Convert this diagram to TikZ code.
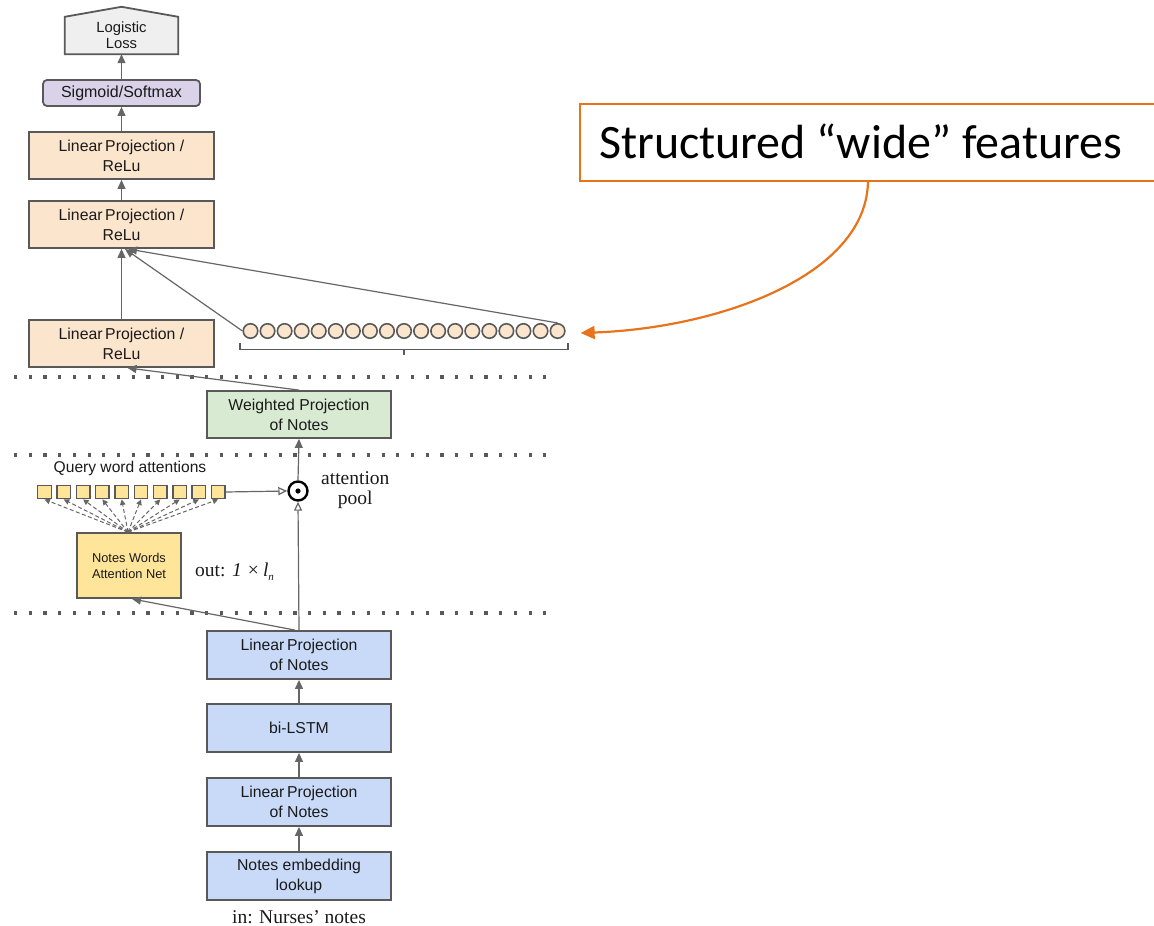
\documentclass[tikz,border=0pt]{standalone}
\usepackage{fontspec}
\usetikzlibrary{arrows.meta,calc,backgrounds}
\newfontfamily\arial{Liberation Sans}
\newfontfamily\tnr{Liberation Serif}
\newfontfamily\calibri{Carlito}

\definecolor{edge}{HTML}{595959}
\definecolor{wire}{HTML}{666666}
\definecolor{ink}{HTML}{1A1A1A}
\definecolor{lossfill}{HTML}{EFEFEF}
\definecolor{sigfill}{HTML}{D9D2E9}
\definecolor{peach}{HTML}{FCE5CD}
\definecolor{mint}{HTML}{D9EAD3}
\definecolor{butter}{HTML}{FFE599}
\definecolor{sky}{HTML}{C9DAF8}
\definecolor{accent}{HTML}{E8731A}

\tikzset{
  layer/.style={draw=edge, line width=1.8pt, inner sep=0pt, align=center,
    minimum width=185pt, minimum height=47pt, text=ink,
    font=\arial\fontsize{15.8}{20}\selectfont},
  relu/.style={layer, fill=peach},
  notes/.style={layer, fill=sky, minimum width=184pt, minimum height=48pt},
  feat/.style={circle, draw=edge, fill=peach, line width=1.6pt, inner sep=0pt, minimum size=14.5pt},
  qsq/.style={draw=edge, fill=butter, line width=1.4pt, inner sep=0pt, minimum size=13.5pt},
  link/.style={draw=wire, line width=1.2pt, -{Triangle[length=9pt,width=8pt]}},
  hollow/.style={draw=wire, line width=1.2pt, -{Triangle[open,length=9pt,width=8pt]}},
  fan/.style={draw=wire, line width=1pt, dash pattern=on 4pt off 2.5pt,
    -{Triangle[length=5.5pt,width=5.5pt]}},
  sep/.style={draw=edge, line width=3.2pt, dash pattern=on 3.2pt off 11.5pt},
  serif/.style={font=\tnr\fontsize{19.5}{19.5}\selectfont, text=ink, align=center, inner sep=0pt}
}

\begin{document}
\begin{tikzpicture}[x=1pt, y=-1pt]
\useasboundingbox (0,0) rectangle (1154,926);

% ---- output head ----
\node (loss) [minimum width=113pt, minimum height=37pt, inner sep=0pt, align=center,
  text=ink, font=\arial\fontsize{14.8}{16}\selectfont] at (121.5,35.5) {Logistic\\Loss};
\begin{scope}[on background layer]
\draw[edge, fill=lossfill, line width=1.8pt]
  (loss.south west) -- (loss.north west) -- ($(loss.north)+(0,-10)$)
  -- (loss.north east) -- (loss.south east) -- cycle;
\end{scope}

\node (sig) [layer, fill=sigfill, rounded corners=4pt, minimum width=157pt, minimum height=26pt,
  font=\arial\fontsize{16}{18}\selectfont] at (121.5,93) {Sigmoid/Softmax};

\node (lp1) [relu] at (121.5,155.5) {Linear\,Projection /\\ReLu};
\node (lp2) [relu] at (121.5,224.5) {Linear\,Projection /\\ReLu};
\node (lp3) [relu] at (121.5,343.5) {Linear\,Projection /\\ReLu};

\draw[link] (sig.north) -- (loss.south);
\draw[link] (lp1.north) -- (sig.south);
\draw[link] (lp2.north) -- (lp1.south);
\draw[link] (lp3.north) -- (lp2.south);

% ---- wide feature vector ----
\foreach \i in {1,...,19}
  \node (c\i) [feat] at ({250.5+(\i-1)*17.06},331) {};
\coordinate (hubL) at (125,249);
\coordinate (hubR) at (128,249);
\draw[link] (c1.west) -- (hubL);
\draw[link] (c19.north) -- (hubR);
\draw[edge, line width=1.8pt] (240,343) -- (240,349.5) -- (568,349.5) -- (568,343);
\draw[edge, line width=1.8pt] (404,349.5) -- (404,355);

% ---- separators ----
\draw[sep] (14,377) -- (552,377);
\draw[sep] (14,455) -- (552,455);
\draw[sep] (14,613) -- (552,613);

% ---- attention block ----
\node (wp) [layer, fill=mint, minimum width=184pt] at (299,414.5) {Weighted Projection\\of Notes};
\draw[link] (wp.north) -- ($(lp3.south)+(6,0)$);

\node (qlabel) [text=ink, font=\arial\fontsize{15.6}{17}\selectfont, inner sep=0pt] at (130,468)
  {Query word attentions};
\foreach \i in {1,...,10}
  \node (q\i) [qsq] at ({44.5+(\i-1)*19.3},492) {};

\node (pool) [circle, draw=black, line width=2.4pt, minimum size=19pt, inner sep=0pt] at (298,491) {};
\fill (pool) circle (2.6pt);
\node (pooltxt) [serif, anchor=west] at (321,490) {attention\\pool};

\draw[hollow] (q10.east) -- (pool.west);
\draw[link] (pool.north) -- (wp.south);

\node (nwan) [layer, fill=butter, minimum width=104pt, minimum height=65pt,
  font=\arial\fontsize{12.8}{16}\selectfont] at (129,565.5) {Notes Words\\Attention Net};
\foreach \i in {1,...,10}
  \draw[fan] ($(nwan.north)+(-1,0)$) -- (q\i.south);

\node (outtxt) [serif, anchor=west] at (195,572)
  {out: \textit{1 ×\,l}\raisebox{-4pt}{\fontsize{11}{11}\selectfont\textit{n}}};

% ---- notes encoder stack ----
\node (lpn1) [notes] at (299,655) {Linear\,Projection\\of Notes};
\node (lstm) [notes] at (299,728) {bi-LSTM};
\node (lpn2) [notes] at (299,802) {Linear\,Projection\\of Notes};
\node (emb)  [notes] at (299,876) {Notes embedding\\lookup};
\node (intxt) [serif] at (299,917) {in: Nurses’ notes};

\draw[link] (emb.north) -- (lpn2.south);
\draw[link] (lpn2.north) -- (lstm.south);
\draw[link] (lstm.north) -- (lpn1.south);
\draw[hollow] (lpn1.north) -- (pool.south);
\draw[link] ($(lpn1.north)+(-4,0)$) -- ($(nwan.south)+(3,0)$);

% ---- callout ----
\node (wide) [draw=accent, line width=1.6pt, fill=white, anchor=north west, inner sep=0pt,
  minimum width=600pt, minimum height=77pt] at (579,103) {};
\node (widetxt) [anchor=base west, inner sep=0pt, text=black,
  font=\calibri\fontsize{48}{50}\selectfont] at (599,158) {Structured “wide” features};
\coordinate (widefoot) at (868,180);
\draw[accent, line width=2.2pt, -{Triangle[length=14pt,width=13pt]}]
  (widefoot) .. controls (868,275) and (720,328) .. ($(c19.east)+(15,2)$);
\end{tikzpicture}
\end{document}
